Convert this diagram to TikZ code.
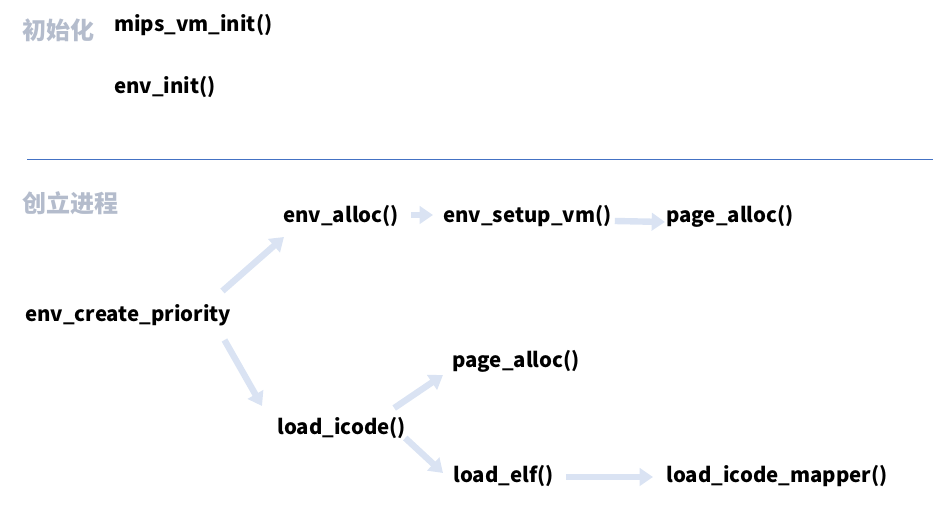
\documentclass[tikz,border=0pt]{standalone}
\usepackage{fontspec}
\setmainfont{Noto Sans CJK SC}
\usetikzlibrary{arrows.meta}
\definecolor{lbl}{HTML}{B4BCCC}
\definecolor{arrc}{HTML}{DAE3F3}
\definecolor{rule}{HTML}{4472C4}
\begin{document}
\begin{tikzpicture}[x=0.75pt,y=-0.75pt,
  fn/.style={anchor=west,inner sep=0pt,font=\fontsize{15.3}{18}\selectfont\bfseries},
  sec/.style={anchor=west,inner sep=0pt,text=lbl,font=\fontsize{18}{22}\selectfont\bfseries},
  arr/.style={draw=arrc,line width=4.8pt,-{Triangle[length=10pt,width=13pt]}}]
\useasboundingbox (0,0) rectangle (933,509);
\node[sec] (s1) at (22,30) {初始化};
\node[fn] (mvi) at (114,25) {mips\_vm\_init()};
\node[fn] (ei) at (114,87) {env\_init()};
\coordinate (l1) at (27,160);
\coordinate (l2) at (933,160);
\draw[rule,line width=0.75pt] (l1) -- (l2);
\node[sec] (s2) at (22,203) {创立进程};
\node[fn] (ealloc) at (283,216) {env\_alloc()};
\node[fn] (esvm) at (443,216) {env\_setup\_vm()};
\node[fn] (pa1) at (666,216) {page\_alloc()};
\node[fn] (ecp) at (25,315) {env\_create\_priority};
\node[fn] (pa2) at (452,361) {page\_alloc()};
\node[fn] (li) at (277,428) {load\_icode()};
\node[fn] (lelf) at (453,476) {load\_elf()};
\node[fn] (lim) at (666,476) {load\_icode\_mapper()};
\draw[arr] ([shift={(-9,-24)}]ecp.east) -- ([shift={(1,21)}]ealloc.west);
\draw[arr] ([shift={(12,-1)}]ealloc.east) -- ([shift={(-10,-1)}]esvm.west);
\draw[arr] ([shift={(3,5)}]esvm.east) -- ([shift={(-1,6)}]pa1.west);
\draw[arr] ([shift={(-7,25)}]ecp.east) -- ([shift={(-15,-22)}]li.west);
\draw[arr] ([shift={(-12,-20)}]li.east) -- ([shift={(-9,14)}]pa2.west);
\draw[arr] ([shift={(-1,10)}]li.east) -- ([shift={(-10,-3)}]lelf.west);
\draw[arr] ([shift={(12,1)}]lelf.east) -- ([shift={(-13,1)}]lim.west);
\end{tikzpicture}
\end{document}
